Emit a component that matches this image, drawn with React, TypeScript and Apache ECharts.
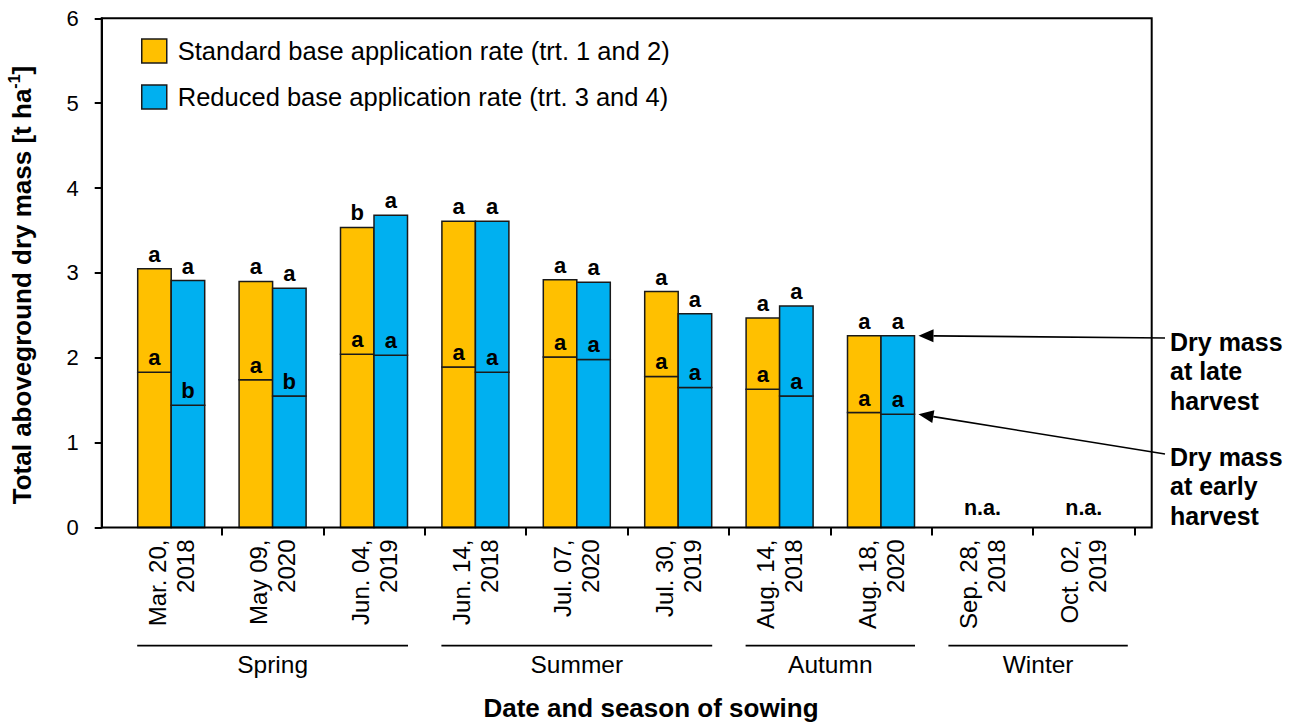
import React, { useEffect, useRef } from "react";
import * as echarts from "echarts";

const categories = [
  "Mar. 20,\n2018", "May 09,\n2020", "Jun. 04,\n2019", "Jun. 14,\n2018", "Jul. 07,\n2020",
  "Jul. 30,\n2019", "Aug. 14,\n2018", "Aug. 18,\n2020", "Sep. 28,\n2018", "Oct. 02,\n2019",
];
const earlyStandard = [1.83, 1.74, 2.04, 1.89, 2.01, 1.78, 1.63, 1.355, null, null];
const lateStandard = [3.05, 2.9, 3.535, 3.61, 2.92, 2.78, 2.47, 2.26, null, null];
const earlyReduced = [1.44, 1.55, 2.03, 1.83, 1.98, 1.65, 1.55, 1.335, null, null];
const lateReduced = [2.91, 2.82, 3.68, 3.61, 2.89, 2.52, 2.61, 2.26, null, null];

const earlyLettersStandard = ["a", "a", "a", "a", "a", "a", "a", "a", "", ""];
const lateLettersStandard = ["a", "a", "b", "a", "a", "a", "a", "a", "", ""];
const earlyLettersReduced = ["b", "b", "a", "a", "a", "a", "a", "a", "", ""];
const lateLettersReduced = ["a", "a", "a", "a", "a", "a", "a", "a", "", ""];

const naCategories = [8, 9];
const naLabel = "n.a.";

const seasonNames = ["Spring", "Summer", "Autumn", "Winter"];
const seasonFirst = [0, 3, 6, 8];
const seasonLast = [2, 5, 7, 9];

const yTicks = { min: 0, max: 6, interval: 1 };

const legendStandard = "Standard base application rate (trt. 1 and 2)";
const legendReduced = "Reduced base application rate (trt. 3 and 4)";

const FONT = "'Liberation Sans', Arial, Helvetica, sans-serif";
const ORANGE = "#FFC000";
const BLUE = "#00B0F0";
const BORDER = "#1a1a1a";
const BAR_W = 33.5;

export default function App() {
  const ref = useRef<HTMLDivElement>(null);
  useEffect(() => {
    if (!ref.current) return;
    const chart = echarts.init(ref.current, undefined, { renderer: "svg" });

    const letter = (text: string, x: number, y: number) => ({
      type: "text",
      style: {
        text,
        x,
        y,
        align: "center",
        verticalAlign: "bottom",
        fontSize: 22,
        fontWeight: "bold",
        fontFamily: FONT,
        fill: "#000",
      },
    });

    const barSeries = (
      name: string,
      early: (number | null)[],
      late: (number | null)[],
      earlyLetters: string[],
      lateLetters: string[],
      color: string,
      side: number
    ) => ({
      type: "custom",
      name,
      itemStyle: { color, borderColor: BORDER, borderWidth: 1.5 },
      encode: { x: 0, y: [1, 2] },
      data: early
        .map((e, i) => [i, e, late[i]])
        .filter((d) => d[1] != null && d[2] != null),
      renderItem: (params: any, api: any) => {
        const i = api.value(0);
        const e = api.value(1);
        const l = api.value(2);
        const base = api.coord([i, 0]);
        const pe = api.coord([i, e]);
        const pl = api.coord([i, l]);
        const x = side < 0 ? base[0] - BAR_W : base[0];
        const style = { fill: color, stroke: BORDER, lineWidth: 1.5 };
        return {
          type: "group",
          children: [
            { type: "rect", shape: { x, y: pe[1], width: BAR_W, height: base[1] - pe[1] }, style },
            { type: "rect", shape: { x, y: pl[1], width: BAR_W, height: pe[1] - pl[1] }, style },
            letter(earlyLetters[i], x + BAR_W / 2, pe[1] - 3.5),
            letter(lateLetters[i], x + BAR_W / 2, pl[1] - 3.5),
          ],
        };
      },
    });

    const option: any = {
      animation: false,
      textStyle: { fontFamily: FONT, color: "#000" },
      grid: { left: 120.5, right: 163.5, top: 18.3, bottom: 196.5, containLabel: false },
      legend: {
        show: true,
        orient: "vertical",
        left: 141,
        top: 38,
        itemWidth: 25,
        itemHeight: 24,
        itemGap: 20,
        padding: 0,
        selectedMode: false,
        icon: "rect",
        data: [legendStandard, legendReduced],
        itemStyle: { borderColor: BORDER, borderWidth: 1.5 },
        textStyle: {
          fontSize: 25.5,
          lineHeight: 24,
          color: "#000",
          fontFamily: FONT,
          padding: [0, 0, 0, 6],
        },
      },
      xAxis: {
        type: "category",
        data: categories,
        axisLine: { show: false },
        axisTick: {
          show: true,
          length: 8,
          interval: (i: number) => i > 0,
          lineStyle: { color: "#000", width: 2 },
        },
        axisLabel: {
          interval: 0,
          rotate: 90,
          fontSize: 24,
          lineHeight: 28,
          margin: 12,
          color: "#000",
          fontFamily: FONT,
        },
        splitLine: { show: false },
      },
      yAxis: {
        type: "value",
        min: yTicks.min,
        max: yTicks.max,
        interval: yTicks.interval,
        offset: 18.8,
        axisLine: { show: true, lineStyle: { color: "#000", width: 2 } },
        axisTick: { show: true, length: 7, lineStyle: { color: "#000", width: 2 } },
        axisLabel: { fontSize: 22, margin: 23, color: "#000", fontFamily: FONT },
        splitLine: { show: false },
      },
      series: [
        barSeries(legendStandard, earlyStandard, lateStandard, earlyLettersStandard, lateLettersStandard, ORANGE, -1),
        barSeries(legendReduced, earlyReduced, lateReduced, earlyLettersReduced, lateLettersReduced, BLUE, 1),
        {
          type: "custom",
          name: "na",
          encode: { x: 0, y: 1 },
          data: naCategories.map((i) => [i, 0]),
          renderItem: (params: any, api: any) => {
            const p = api.coord([api.value(0), api.value(1)]);
            return {
              type: "text",
              style: {
                text: naLabel,
                x: p[0],
                y: p[1] - 9,
                align: "center",
                verticalAlign: "bottom",
                fontSize: 21.5,
                fontWeight: "bold",
                fontFamily: FONT,
                fill: "#000",
              },
            };
          },
        },
      ],
    };
    chart.setOption(option);

    const px = (i: number, v: number) => chart.convertToPixel({ gridIndex: 0 }, [i, v]) as number[];
    const y0 = px(0, 0)[1];
    const y6 = px(0, 6)[1];
    const frameLeft = 101.7;
    const frameRight = 1151.7;
    const half = 34;

    const graphics: any[] = [
      {
        type: "rect",
        shape: { x: frameLeft, y: y6, width: frameRight - frameLeft, height: y0 - y6 },
        style: { fill: "none", stroke: "#000", lineWidth: 2 },
        z: 10,
        silent: true,
      },
      {
        type: "text",
        x: 22,
        y: 285,
        rotation: Math.PI / 2,
        style: {
          text: "{b|Total aboveground dry mass [t ha}{s|-1}{b|]}",
          align: "center",
          verticalAlign: "middle",
          rich: {
            b: { fontSize: 26, fontWeight: "bold", fontFamily: FONT, fill: "#000", lineHeight: 32 },
            s: { fontSize: 16, fontWeight: "bold", fontFamily: FONT, fill: "#000", lineHeight: 16, verticalAlign: "top" },
          },
        },
      },
      {
        type: "text",
        x: 651,
        y: 708,
        style: {
          text: "Date and season of sowing",
          align: "center",
          verticalAlign: "middle",
          fontSize: 26,
          fontWeight: "bold",
          fontFamily: FONT,
          fill: "#000",
        },
      },
    ];

    seasonNames.forEach((name, k) => {
      const xa = px(seasonFirst[k], 0)[0] - half;
      const xb = px(seasonLast[k], 0)[0] + half + (k === seasonNames.length - 1 ? 10 : 0);
      graphics.push({
        type: "line",
        shape: { x1: xa, y1: 645.7, x2: xb, y2: 645.7 },
        style: { stroke: "#000", lineWidth: 1.8 },
      });
      graphics.push({
        type: "text",
        x: (xa + xb) / 2,
        y: 664,
        style: {
          text: name,
          align: "center",
          verticalAlign: "middle",
          fontSize: 24.5,
          fontFamily: FONT,
          fill: "#000",
        },
      });
    });

    const arrow = (tip: number[], tail: number[]) => {
      const dx = tail[0] - tip[0];
      const dy = tail[1] - tip[1];
      const len = Math.sqrt(dx * dx + dy * dy);
      const ux = dx / len, uy = dy / len;
      const headLen = 15, headHalf = 6.5;
      const bx = tip[0] + ux * headLen, by = tip[1] + uy * headLen;
      const pxp = -uy * headHalf, pyp = ux * headHalf;
      graphics.push({
        type: "line",
        shape: { x1: bx, y1: by, x2: tail[0], y2: tail[1] },
        style: { stroke: "#000", lineWidth: 1.6 },
      });
      graphics.push({
        type: "polygon",
        shape: { points: [[tip[0], tip[1]], [bx + pxp, by + pyp], [bx - pxp, by - pyp]] },
        style: { fill: "#000" },
      });
    };
    const lastIdx = 7;
    const lateTip = px(lastIdx, lateReduced[lastIdx] as number);
    const earlyTip = px(lastIdx, earlyReduced[lastIdx] as number);
    arrow([lateTip[0] + BAR_W + 4, lateTip[1]], [1165, 338]);
    arrow([earlyTip[0] + BAR_W + 4, earlyTip[1]], [1165, 454]);

    const annot = (text: string, top: number) =>
      graphics.push({
        type: "text",
        x: 1170,
        y: top,
        style: {
          text,
          align: "left",
          verticalAlign: "top",
          fontSize: 25,
          fontWeight: "bold",
          fontFamily: FONT,
          lineHeight: 29.5,
          fill: "#000",
        },
      });
    annot("Dry mass\nat late\nharvest", 327);
    annot("Dry mass\nat early\nharvest", 442);

    chart.setOption({ graphic: graphics });
    return () => chart.dispose();
  }, []);
  return (
    <div
      ref={ref}
      style={{ position: "absolute", left: 0, top: 0, width: 1298, height: 724, background: "#fff" }}
    />
  );
}
